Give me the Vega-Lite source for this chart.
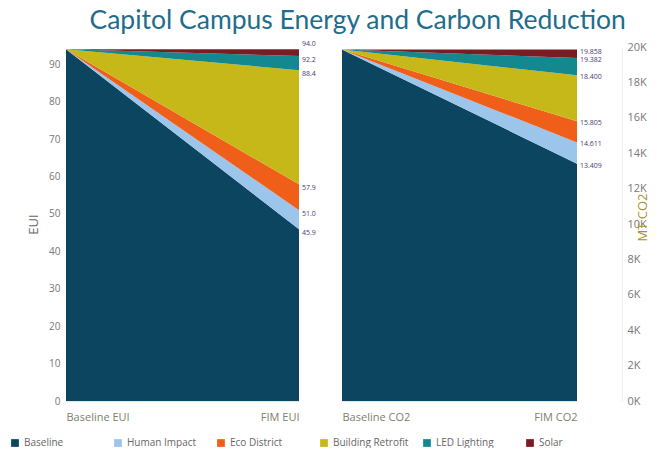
{
  "$schema": "https://vega.github.io/schema/vega-lite/v6.json",
  "background": "white",
  "padding": {"left": 10, "right": 5, "top": 7, "bottom": 0},
  "bounds": "flush",
  "spacing": 43,
  "title": {
    "text": "Capitol Campus Energy and Carbon Reduction",
    "font": "Lato",
    "fontSize": 26.5,
    "fontWeight": "normal",
    "color": "#1f6d8c",
    "anchor": "middle",
    "dx": 28,
    "offset": 6
  },
  "config": {
    "view": {"stroke": null},
    "font": "Open Sans",
    "axis": {"grid": false, "ticks": false, "labelColor": "#777777", "labelFontSize": 10, "titleFontWeight": "normal", "labelOverlap": false},
    "legend": {
      "orient": "none",
      "legendX": -56,
      "legendY": 391,
      "direction": "horizontal",
      "columns": 6,
      "gridAlign": "all",
      "columnPadding": 13,
      "symbolType": "square",
      "symbolSize": 60,
      "symbolStrokeWidth": 0,
      "labelFontSize": 10,
      "labelColor": "#666666",
      "title": null
    }
  },
  "datasets": {
    "eui": [
      {"stage": 0, "category": "Baseline", "lo": 0, "hi": 94.0},
      {"stage": 0, "category": "Human Impact", "lo": 94.0, "hi": 94.0},
      {"stage": 0, "category": "Eco District", "lo": 94.0, "hi": 94.0},
      {"stage": 0, "category": "Building Retrofit", "lo": 94.0, "hi": 94.0},
      {"stage": 0, "category": "LED Lighting", "lo": 94.0, "hi": 94.0},
      {"stage": 0, "category": "Solar", "lo": 94.0, "hi": 94.0},
      {"stage": 1, "category": "Baseline", "lo": 0, "hi": 45.9},
      {"stage": 1, "category": "Human Impact", "lo": 45.9, "hi": 51.0},
      {"stage": 1, "category": "Eco District", "lo": 51.0, "hi": 57.9},
      {"stage": 1, "category": "Building Retrofit", "lo": 57.9, "hi": 88.4},
      {"stage": 1, "category": "LED Lighting", "lo": 88.4, "hi": 92.2},
      {"stage": 1, "category": "Solar", "lo": 92.2, "hi": 94.0}
    ],
    "co2": [
      {"stage": 0, "category": "Baseline", "lo": 0, "hi": 19858},
      {"stage": 0, "category": "Human Impact", "lo": 19858, "hi": 19858},
      {"stage": 0, "category": "Eco District", "lo": 19858, "hi": 19858},
      {"stage": 0, "category": "Building Retrofit", "lo": 19858, "hi": 19858},
      {"stage": 0, "category": "LED Lighting", "lo": 19858, "hi": 19858},
      {"stage": 0, "category": "Solar", "lo": 19858, "hi": 19858},
      {"stage": 1, "category": "Baseline", "lo": 0, "hi": 13409},
      {"stage": 1, "category": "Human Impact", "lo": 13409, "hi": 14611},
      {"stage": 1, "category": "Eco District", "lo": 14611, "hi": 15805},
      {"stage": 1, "category": "Building Retrofit", "lo": 15805, "hi": 18400},
      {"stage": 1, "category": "LED Lighting", "lo": 18400, "hi": 19382},
      {"stage": 1, "category": "Solar", "lo": 19382, "hi": 19858}
    ]
  },
  "hconcat": [
    {
      "width": 233,
      "height": 354,
      "data": {"name": "eui"},
      "encoding": {
        "x": {
          "field": "stage", "type": "quantitative",
          "scale": {"domain": [0, 1], "nice": false},
          "axis": {
            "title": null, "values": [0, 1], "labelFlush": true,
            "labelExpr": "datum.value == 0 ? 'Baseline EUI' : 'FIM EUI'",
            "labelColor": "#7d806c", "labelFontSize": 11, "labelPadding": 10,
            "domainColor": "#e6e6e6"
          }
        },
        "y": {
          "field": "hi", "type": "quantitative", "stack": null,
          "scale": {"domain": [0, 94.6], "nice": false},
          "axis": {
            "title": "EUI", "titleColor": "#666666", "titleFontSize": 13,
            "titleAngle": 270, "titlePadding": 8,
            "values": [0, 10, 20, 30, 40, 50, 60, 70, 80, 90],
            "labelOverlap": false,
            "domain": false, "labelPadding": 6
          }
        }
      },
      "layer": [
        {
          "mark": {"type": "area", "interpolate": "linear"},
          "encoding": {
            "y2": {"field": "lo"},
            "color": {
              "field": "category", "type": "nominal",
              "scale": {
                "domain": ["Baseline", "Human Impact", "Eco District", "Building Retrofit", "LED Lighting", "Solar"],
                "range": ["#0c4560", "#9cc5ec", "#f05f1a", "#c5b818", "#13898f", "#7a1c24"]
              }
            },
            "order": {"field": "category"}
          }
        },
        {
          "transform": [
            {"filter": "datum.stage == 1 && datum.category != 'Solar'"},
            {"calculate": "format(datum.hi, '.1f')", "as": "label"}
          ],
          "mark": {"type": "text", "align": "left", "baseline": "middle", "dx": 3, "dy": 4, "fontSize": 7, "color": "#4e3a72"},
          "encoding": {"text": {"field": "label"}}
        },
        {
          "transform": [
            {"filter": "datum.stage == 1 && datum.category == 'Solar'"},
            {"calculate": "format(datum.hi, '.1f')", "as": "label"}
          ],
          "mark": {"type": "text", "align": "left", "baseline": "middle", "dx": 3, "dy": -5, "fontSize": 7, "color": "#4e3a72"},
          "encoding": {"text": {"field": "label"}}
        }
      ]
    },
    {
      "width": 235,
      "height": 354,
      "data": {"name": "co2"},
      "encoding": {
        "x": {
          "field": "stage", "type": "quantitative",
          "scale": {"domain": [0, 1], "nice": false},
          "axis": {
            "title": null, "values": [0, 1], "labelFlush": true,
            "labelExpr": "datum.value == 0 ? 'Baseline CO2' : 'FIM CO2'",
            "labelColor": "#7d806c", "labelFontSize": 11, "labelPadding": 10,
            "domainColor": "#e6e6e6"
          }
        },
        "y": {
          "field": "hi", "type": "quantitative", "stack": null,
          "scale": {"domain": [0, 20000], "nice": false},
          "axis": {
            "orient": "right", "offset": 45,
            "title": "MT CO2", "titleColor": "#a8922c", "titleFontSize": 13,
            "titleAngle": 270, "titlePadding": 3, "titleY": 170,
            "values": [0, 2000, 4000, 6000, 8000, 10000, 12000, 14000, 16000, 18000, 20000],
            "labelOverlap": false,
            "labelExpr": "(datum.value / 1000) + 'K'",
            "labelFontSize": 11, "labelPadding": 5,
            "domainColor": "#eeeeee"
          }
        }
      },
      "layer": [
        {
          "mark": {"type": "area", "interpolate": "linear"},
          "encoding": {
            "y2": {"field": "lo"},
            "color": {"field": "category", "type": "nominal"},
            "order": {"field": "category"}
          }
        },
        {
          "transform": [
            {"filter": "datum.stage == 1"},
            {"calculate": "replace(format(datum.hi, ',.0f'), ',', '.')", "as": "label"}
          ],
          "mark": {"type": "text", "align": "left", "baseline": "middle", "dx": 3, "dy": 2, "fontSize": 7, "color": "#4e3a72"},
          "encoding": {"text": {"field": "label"}}
        }
      ]
    }
  ],
  "resolve": {"scale": {"y": "independent", "x": "independent"}}
}
